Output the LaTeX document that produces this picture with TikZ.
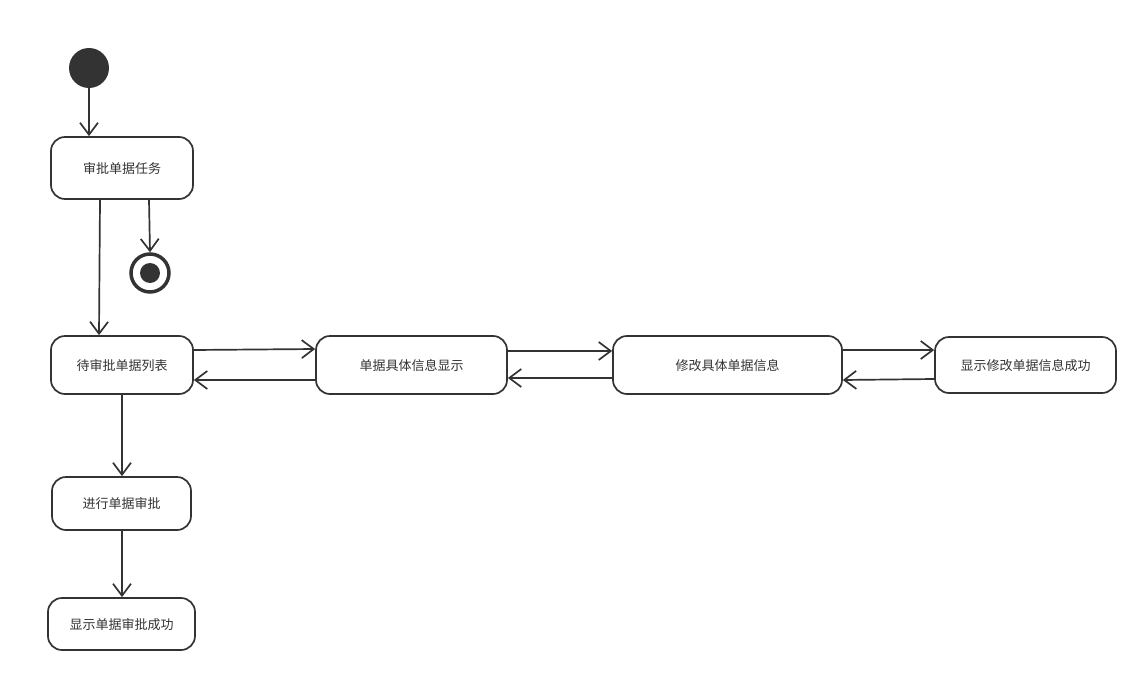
\documentclass[tikz,border=0pt]{standalone}
\usepackage{fontspec}
\newfontfamily\cjk{Noto Sans CJK SC}
\usetikzlibrary{arrows.meta}
\definecolor{ink}{HTML}{333333}
\begin{document}
\begin{tikzpicture}[x=1pt,y=-1pt,
  state/.style={draw=ink, line width=1.7pt, rounded corners=14pt, fill=white, text=ink,
    font=\cjk\fontsize{13pt}{15pt}\selectfont, inner sep=0pt, text depth=1pt},
  arr/.style={draw=ink, line width=1.7pt, -{Straight Barb[length=12pt,width=18pt,line width=1.7pt]}}]
\useasboundingbox (0,0) rectangle (1147,682);
\node[circle, fill=ink, minimum size=40pt, inner sep=0pt] (start) at (89,68) {};
\node[state, minimum width=142pt, minimum height=62pt] (t1) at (122,168) {审批单据任务};
\node[circle, draw=ink, line width=3.5pt, minimum size=38pt, inner sep=0pt] (fin) at (150,273) {};
\node[circle, fill=ink, minimum size=20pt, inner sep=0pt] (finin) at (150,273) {};
\node[state, minimum width=142pt, minimum height=58pt] (t2) at (122,365) {待审批单据列表};
\node[state, minimum width=191pt, minimum height=58pt] (t3) at (411.5,365) {单据具体信息显示};
\node[state, minimum width=229pt, minimum height=58pt] (t4) at (727.5,365) {修改具体单据信息};
\node[state, minimum width=181pt, minimum height=56pt] (t5) at (1025.5,365) {显示修改单据信息成功};
\node[state, minimum width=139pt, minimum height=53pt] (t6) at (121.5,503.5) {进行单据审批};
\node[state, minimum width=147pt, minimum height=52pt] (t7) at (121.5,624) {显示单据审批成功};

\draw[arr] (start.south) -- ([xshift=-33pt]t1.north);
\draw[arr] ([xshift=-22pt]t1.south) -- ([xshift=-23pt]t2.north);
\draw[arr] ([xshift=27pt]t1.south) -- (fin.north);
\draw[arr] ([yshift=15pt]t2.east) -- ([yshift=16pt]t3.west);
\draw[arr] ([yshift=-15pt]t3.west) -- ([yshift=-15pt]t2.east);
\draw[arr] ([yshift=14pt]t3.east) -- ([yshift=14pt]t4.west);
\draw[arr] ([yshift=-13pt]t4.west) -- ([yshift=-13pt]t3.east);
\draw[arr] ([yshift=15pt]t4.east) -- ([yshift=15pt]t5.west);
\draw[arr] ([yshift=-14pt]t5.west) -- ([yshift=-15pt]t4.east);
\draw[arr] (t2.south) -- (t2.south |- t6.north);
\draw[arr] (t6.south -| t2.south) -- (t2.south |- t7.north);
\end{tikzpicture}
\end{document}
